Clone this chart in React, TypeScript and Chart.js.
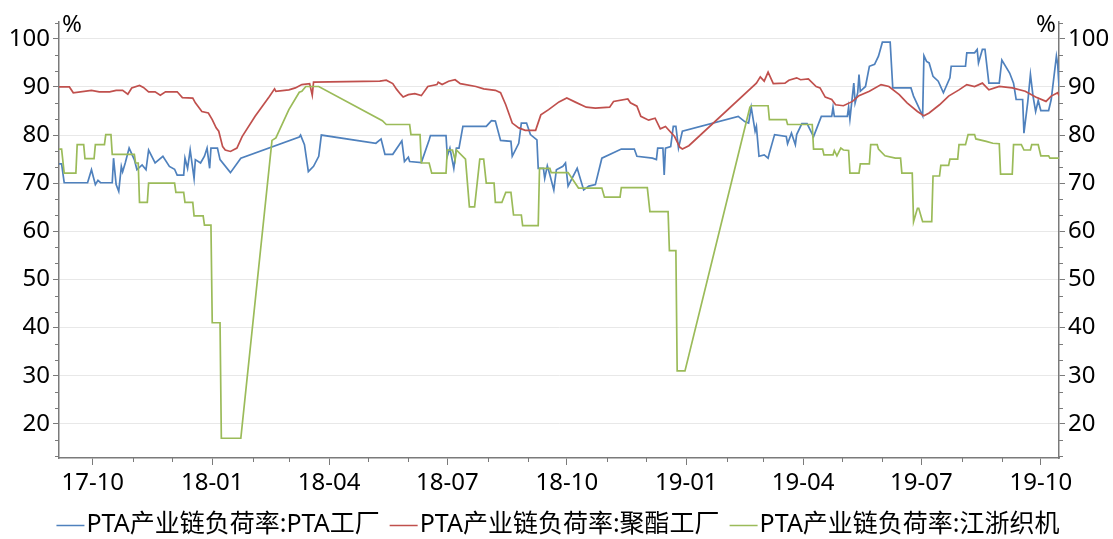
import React, { useEffect, useRef } from "react";
import { Chart, registerables } from "chart.js";

Chart.register(...registerables);

// ---------------- data ----------------
const seriesNames = [
  "PTA产业链负荷率:PTA工厂",
  "PTA产业链负荷率:聚酯工厂",
  "PTA产业链负荷率:江浙织机",
];
const seriesColors = ["#4F81BD", "#C0504D", "#9BBB59"];

const xMin = "2017-09-05";
const xMax = "2019-10-15";
const yMin = 12.9;
const yMax = 103.5;
const yTickValues = [20, 30, 40, 50, 60, 70, 80, 90, 100];
const xTickMonths = ["2017-10", "2018-01", "2018-04", "2018-07", "2018-10", "2019-01", "2019-04", "2019-07", "2019-10"];

const ptaDates = [
  "2017-09-05", "2017-09-07", "2017-09-09", "2017-09-27", "2017-09-30", "2017-10-03", "2017-10-05", "2017-10-07",
  "2017-10-16", "2017-10-17", "2017-10-19", "2017-10-21", "2017-10-23", "2017-10-24", "2017-10-26", "2017-10-29",
  "2017-11-02", "2017-11-04", "2017-11-08", "2017-11-11", "2017-11-13", "2017-11-18", "2017-11-24", "2017-11-29",
  "2017-12-03", "2017-12-05", "2017-12-10", "2017-12-11", "2017-12-13", "2017-12-15", "2017-12-18", "2017-12-19",
  "2017-12-23", "2017-12-26", "2017-12-28", "2017-12-30", "2017-12-31", "2018-01-05", "2018-01-07", "2018-01-15",
  "2018-01-23", "2018-03-09", "2018-03-10", "2018-03-13", "2018-03-16", "2018-03-20", "2018-03-24", "2018-03-26",
  "2018-05-07", "2018-05-11", "2018-05-14", "2018-05-20", "2018-05-25", "2018-05-27", "2018-05-29", "2018-06-01",
  "2018-06-02", "2018-06-11", "2018-06-17", "2018-06-18", "2018-06-30", "2018-07-01", "2018-07-03", "2018-07-06",
  "2018-07-08", "2018-07-10", "2018-07-13", "2018-07-31", "2018-08-04", "2018-08-07", "2018-08-11", "2018-08-19",
  "2018-08-20", "2018-08-25", "2018-08-27", "2018-08-31", "2018-09-03", "2018-09-08", "2018-09-09", "2018-09-13",
  "2018-09-14", "2018-09-16", "2018-09-18", "2018-09-21", "2018-09-23", "2018-09-28", "2018-09-30", "2018-10-02",
  "2018-10-09", "2018-10-14", "2018-10-18", "2018-10-23", "2018-10-28", "2018-11-12", "2018-11-22", "2018-11-24",
  "2018-12-06", "2018-12-09", "2018-12-10", "2018-12-14", "2018-12-15", "2018-12-16", "2018-12-20", "2018-12-22",
  "2018-12-24", "2018-12-26", "2018-12-29", "2019-02-10", "2019-02-15", "2019-02-18", "2019-02-20", "2019-02-23",
  "2019-02-24", "2019-02-26", "2019-03-02", "2019-03-05", "2019-03-06", "2019-03-10", "2019-03-19", "2019-03-20",
  "2019-03-23", "2019-03-26", "2019-03-27", "2019-03-31", "2019-04-04", "2019-04-09", "2019-04-15", "2019-04-23",
  "2019-04-24", "2019-04-25", "2019-05-05", "2019-05-06", "2019-05-07", "2019-05-10", "2019-05-11", "2019-05-13",
  "2019-05-14", "2019-05-15", "2019-05-19", "2019-05-22", "2019-05-26", "2019-05-29", "2019-06-01", "2019-06-07",
  "2019-06-09", "2019-06-23", "2019-06-25", "2019-07-02", "2019-07-03", "2019-07-05", "2019-07-07", "2019-07-10",
  "2019-07-14", "2019-07-18", "2019-07-23", "2019-07-24", "2019-08-04", "2019-08-05", "2019-08-11", "2019-08-13",
  "2019-08-14", "2019-08-17", "2019-08-19", "2019-08-22", "2019-08-30", "2019-09-01", "2019-09-07", "2019-09-10",
  "2019-09-12", "2019-09-17", "2019-09-18", "2019-09-21", "2019-09-23", "2019-09-25", "2019-09-27", "2019-09-29",
  "2019-10-01", "2019-10-07", "2019-10-09", "2019-10-13", "2019-10-14", "2019-10-15",
];
const ptaValues = [
  74.0, 74.0, 70.1, 70.1, 72.8, 69.7, 70.6, 70.1,
  70.1, 75.2, 69.7, 68.3, 73.5, 72.4, 74.2, 77.3,
  74.9, 72.8, 73.8, 72.8, 76.9, 74.2, 75.6, 73.5,
  72.9, 71.7, 71.7, 75.2, 73.1, 76.9, 71.0, 74.9,
  74.2, 75.6, 77.3, 73.1, 77.3, 77.3, 74.9, 72.2,
  75.2, 79.6, 80.0, 78.0, 72.4, 73.5, 75.6, 80.0,
  78.3, 79.2, 76.0, 76.0, 78.0, 78.8, 74.5, 75.4,
  74.5, 74.3, 79.0, 79.9, 79.9, 75.6, 77.3, 73.1,
  77.3, 77.3, 81.8, 81.8, 83.0, 82.9, 78.9, 78.7,
  75.6, 78.3, 82.5, 82.5, 80.1, 79.0, 73.1, 73.1,
  71.0, 73.6, 71.7, 68.6, 72.8, 73.5, 74.2, 69.4,
  73.1, 68.6, 69.4, 69.7, 75.2, 77.1, 77.1, 75.6,
  75.2, 74.9, 77.3, 77.3, 71.7, 77.3, 77.6, 81.8,
  81.8, 77.3, 80.8, 83.9, 82.8, 82.5, 85.8, 80.8,
  81.8, 75.6, 75.9, 75.2, 76.3, 80.1, 79.7, 78.2,
  80.4, 78.0, 80.1, 82.4, 82.4, 79.7, 83.9, 83.9,
  85.8, 83.9, 83.9, 85.8, 83.3, 90.8, 86.7, 88.8,
  92.6, 89.1, 90.1, 94.3, 94.7, 96.4, 99.3, 99.3,
  89.8, 89.8, 88.1, 84.0, 96.5, 95.3, 95.0, 92.2,
  91.2, 88.8, 91.9, 94.3, 94.3, 97.1, 97.1, 97.8,
  95.0, 97.8, 97.8, 90.8, 90.8, 95.6, 92.9, 90.8,
  87.4, 87.4, 80.4, 87.0, 92.6, 88.1, 84.9, 87.2,
  85.1, 85.1, 87.4, 96.4, 94.7, 90.1,
];

const polyDates = [
  "2017-09-05", "2017-09-13", "2017-09-16", "2017-09-30", "2017-10-06", "2017-10-14", "2017-10-19", "2017-10-24",
  "2017-10-28", "2017-10-31", "2017-11-06", "2017-11-09", "2017-11-13", "2017-11-18", "2017-11-22", "2017-11-26",
  "2017-12-05", "2017-12-09", "2017-12-17", "2017-12-19", "2017-12-24", "2017-12-29", "2018-01-01", "2018-01-04",
  "2018-01-06", "2018-01-09", "2018-01-11", "2018-01-15", "2018-01-20", "2018-01-24", "2018-02-03", "2018-02-14",
  "2018-02-18", "2018-02-19", "2018-03-01", "2018-03-06", "2018-03-11", "2018-03-17", "2018-03-19", "2018-03-20",
  "2018-05-10", "2018-05-15", "2018-05-20", "2018-05-23", "2018-05-26", "2018-05-28", "2018-06-01", "2018-06-06",
  "2018-06-11", "2018-06-16", "2018-06-23", "2018-06-24", "2018-06-27", "2018-07-02", "2018-07-07", "2018-07-11",
  "2018-07-23", "2018-07-29", "2018-08-07", "2018-08-11", "2018-08-15", "2018-08-20", "2018-08-25", "2018-08-30",
  "2018-09-07", "2018-09-11", "2018-09-17", "2018-09-25", "2018-10-01", "2018-10-08", "2018-10-16", "2018-10-23",
  "2018-11-03", "2018-11-06", "2018-11-17", "2018-11-19", "2018-11-24", "2018-11-27", "2018-12-03", "2018-12-08",
  "2018-12-12", "2018-12-16", "2018-12-23", "2018-12-27", "2018-12-29", "2019-01-03", "2019-02-24", "2019-02-27",
  "2019-03-02", "2019-03-05", "2019-03-09", "2019-03-18", "2019-03-21", "2019-03-27", "2019-03-30", "2019-04-05",
  "2019-04-11", "2019-04-14", "2019-04-18", "2019-04-23", "2019-04-26", "2019-05-02", "2019-05-09", "2019-05-14",
  "2019-05-22", "2019-05-31", "2019-06-06", "2019-06-14", "2019-06-20", "2019-06-28", "2019-07-03", "2019-07-07",
  "2019-07-15", "2019-07-22", "2019-07-30", "2019-08-05", "2019-08-11", "2019-08-17", "2019-08-22", "2019-08-30",
  "2019-09-09", "2019-09-19", "2019-09-27", "2019-10-05", "2019-10-09", "2019-10-14", "2019-10-15",
];
const polyValues = [
  90.0, 90.0, 88.8, 89.3, 89.0, 89.0, 89.3, 89.3,
  88.5, 89.8, 90.3, 89.9, 89.0, 89.0, 88.3, 89.0,
  89.0, 87.8, 87.7, 86.7, 84.9, 84.6, 83.2, 81.5,
  80.8, 77.6, 76.9, 76.6, 77.3, 79.7, 83.9, 88.0,
  89.6, 89.1, 89.4, 89.8, 90.5, 90.7, 88.3, 91.0,
  91.2, 91.4, 90.7, 89.5, 88.5, 87.9, 88.4, 88.6,
  88.2, 90.1, 90.5, 91.0, 90.5, 91.2, 91.5, 90.7,
  90.1, 89.6, 89.3, 88.8, 86.3, 82.5, 81.5, 81.0,
  81.0, 84.2, 85.3, 86.9, 87.7, 86.8, 85.8, 85.6,
  85.8, 87.0, 87.5, 86.7, 86.0, 83.9, 83.1, 83.5,
  81.3, 81.8, 79.7, 77.5, 77.1, 77.8, 90.8, 92.1,
  91.2, 93.1, 90.7, 90.8, 91.4, 91.9, 91.5, 91.7,
  90.1, 89.8, 87.9, 87.4, 86.3, 86.1, 87.0, 88.2,
  89.1, 90.5, 90.1, 88.4, 86.7, 84.9, 84.0, 84.6,
  86.3, 88.1, 89.4, 90.5, 90.1, 90.8, 89.4, 90.1,
  89.8, 89.1, 87.9, 87.0, 88.1, 88.8, 88.2,
];

const loomDates = [
  "2017-09-05", "2017-09-07", "2017-09-09", "2017-09-18", "2017-09-19", "2017-09-24", "2017-09-25", "2017-10-02",
  "2017-10-03", "2017-10-10", "2017-10-11", "2017-10-15", "2017-10-16", "2017-11-02", "2017-11-03", "2017-11-05",
  "2017-11-06", "2017-11-12", "2017-11-13", "2017-12-03", "2017-12-04", "2017-12-10", "2017-12-11", "2017-12-17",
  "2017-12-18", "2017-12-25", "2017-12-26", "2017-12-31", "2018-01-01", "2018-01-07", "2018-01-08", "2018-01-23",
  "2018-02-16", "2018-02-19", "2018-03-01", "2018-03-09", "2018-03-11", "2018-03-14", "2018-03-24", "2018-05-12",
  "2018-05-15", "2018-06-02", "2018-06-03", "2018-06-10", "2018-06-11", "2018-06-17", "2018-06-19", "2018-06-30",
  "2018-07-01", "2018-07-05", "2018-07-07", "2018-07-08", "2018-07-15", "2018-07-18", "2018-07-22", "2018-07-26",
  "2018-07-29", "2018-07-31", "2018-08-06", "2018-08-07", "2018-08-12", "2018-08-15", "2018-08-19", "2018-08-21",
  "2018-08-27", "2018-08-28", "2018-09-09", "2018-09-10", "2018-09-18", "2018-09-19", "2018-10-02", "2018-10-10",
  "2018-10-28", "2018-10-30", "2018-11-11", "2018-11-12", "2018-12-02", "2018-12-04", "2018-12-18", "2018-12-19",
  "2018-12-24", "2018-12-25", "2018-12-31", "2019-02-19", "2019-02-20", "2019-03-05", "2019-03-06", "2019-03-19",
  "2019-03-20", "2019-04-08", "2019-04-09", "2019-04-16", "2019-04-17", "2019-04-24", "2019-04-25", "2019-04-27",
  "2019-04-30", "2019-05-02", "2019-05-06", "2019-05-07", "2019-05-14", "2019-05-15", "2019-05-22", "2019-05-23",
  "2019-05-28", "2019-05-29", "2019-06-03", "2019-06-11", "2019-06-15", "2019-06-16", "2019-06-24", "2019-06-25",
  "2019-06-28", "2019-06-29", "2019-07-02", "2019-07-09", "2019-07-10", "2019-07-15", "2019-07-16", "2019-07-22",
  "2019-07-23", "2019-07-29", "2019-07-30", "2019-08-04", "2019-08-06", "2019-08-11", "2019-08-12", "2019-08-20",
  "2019-08-25", "2019-08-30", "2019-08-31", "2019-09-09", "2019-09-10", "2019-09-16", "2019-09-18", "2019-09-23",
  "2019-09-24", "2019-09-29", "2019-10-01", "2019-10-07", "2019-10-08", "2019-10-15",
];
const loomValues = [
  77.1, 77.1, 72.1, 72.1, 78.0, 78.0, 75.1, 75.1,
  78.0, 78.0, 80.1, 80.1, 76.0, 76.0, 74.2, 74.2,
  66.0, 66.0, 70.0, 70.0, 68.1, 68.1, 66.0, 66.0,
  63.2, 63.2, 61.3, 61.3, 41.0, 41.0, 17.0, 17.0,
  78.9, 79.4, 85.3, 88.9, 89.1, 90.1, 90.1, 83.0,
  82.2, 82.2, 80.1, 80.1, 74.2, 74.2, 72.1, 72.1,
  76.9, 76.9, 74.8, 76.9, 75.0, 65.1, 65.1, 75.0,
  75.0, 70.0, 70.0, 66.0, 66.0, 68.1, 68.1, 63.4,
  63.4, 61.2, 61.2, 73.1, 73.1, 72.2, 72.2, 69.0,
  69.0, 67.1, 67.1, 69.1, 69.1, 64.1, 64.1, 56.0,
  56.0, 31.0, 31.0, 85.8, 86.1, 86.1, 83.2, 83.2,
  82.2, 82.2, 77.1, 77.1, 75.9, 75.9, 76.8, 75.7,
  77.3, 76.9, 76.8, 72.1, 72.1, 74.0, 74.0, 78.0,
  78.0, 77.1, 75.7, 75.2, 75.2, 72.1, 72.1, 62.0,
  64.8, 64.8, 62.0, 62.0, 71.5, 71.5, 73.7, 73.7,
  75.0, 75.0, 78.0, 78.0, 80.1, 80.1, 79.2, 78.7,
  78.3, 78.2, 71.9, 71.9, 78.0, 78.0, 76.9, 76.9,
  78.0, 78.0, 75.7, 75.7, 75.2, 75.2,
];

// ---------------- helpers / styles ----------------
const FONT = "'Noto Sans', 'Noto Sans CJK SC', sans-serif";
const AXIS_COLOR = "#7a7a7a";
const GRID_COLOR = "#e8e8e8";

function dayNum(s: string): number {
  const p = s.split("-").map(Number);
  return Date.UTC(p[0], p[1] - 1, p[2] || 1) / 86400000;
}
function fmtMonth(v: number): string {
  const d = new Date(Math.round(v) * 86400000);
  const yy = String(d.getUTCFullYear() % 100).padStart(2, "0");
  const mm = String(d.getUTCMonth() + 1).padStart(2, "0");
  return `${yy}-${mm}`;
}
function toPoints(dates: string[], values: number[]) {
  return dates.map((d, i) => ({ x: dayNum(d), y: values[i] }));
}

const decorPlugin = {
  id: "decor",
  afterDraw(chart: any) {
    const ctx = chart.ctx as CanvasRenderingContext2D;
    const area = chart.chartArea;
    const xs = chart.scales.x;
    const ys = chart.scales.y;
    ctx.save();
    ctx.strokeStyle = AXIS_COLOR;
    ctx.lineWidth = 1;
    // minor month ticks on x axis
    const majors = new Set(xTickMonths);
    for (let y = 2017; y <= 2019; y++) {
      for (let m = 1; m <= 12; m++) {
        const key = `${y}-${String(m).padStart(2, "0")}`;
        const v = dayNum(key + "-01");
        if (v < xs.min || v > xs.max || majors.has(key)) continue;
        const px = Math.round(xs.getPixelForValue(v)) + 0.5;
        ctx.beginPath();
        ctx.moveTo(px, area.bottom);
        ctx.lineTo(px, area.bottom + 4);
        ctx.stroke();
      }
    }
    // minor ticks on both y axes
    for (let k = 0; k < 30; k++) {
      const v = 10 + (k * 10) / 3;
      if (v < ys.min || v > ys.max) continue;
      if (k % 3 === 0) continue;
      const py = Math.round(ys.getPixelForValue(v)) + 0.5;
      ctx.beginPath();
      ctx.moveTo(area.left - 4, py);
      ctx.lineTo(area.left, py);
      ctx.moveTo(area.right, py);
      ctx.lineTo(area.right + 4, py);
      ctx.stroke();
    }
    // unit labels
    ctx.fillStyle = "#000";
    ctx.font = `24px ${FONT}`;
    ctx.textBaseline = "middle";
    ctx.textAlign = "left";
    ctx.fillText("%", area.left + 3, area.top + 3);
    ctx.textAlign = "right";
    ctx.fillText("%", area.right - 3, area.top + 3);
    // legend
    ctx.font = `25px ${FONT}`;
    ctx.textAlign = "left";
    const lineLen = 28;
    const gapText = 2;
    const gapItem = 10;
    const widths = seriesNames.map((n) => ctx.measureText(n).width);
    const total = widths.reduce((a, w) => a + lineLen + gapText + w, 0) + gapItem * (seriesNames.length - 1);
    let cx = 558 - total / 2;
    const cy = 525;
    seriesNames.forEach((n, i) => {
      ctx.strokeStyle = seriesColors[i];
      ctx.lineWidth = 1.5;
      ctx.beginPath();
      ctx.moveTo(cx, cy + 0.5);
      ctx.lineTo(cx + lineLen, cy + 0.5);
      ctx.stroke();
      ctx.fillStyle = "#000";
      ctx.fillText(n, cx + lineLen + gapText, cy);
      cx += lineLen + gapText + widths[i] + gapItem;
    });
    ctx.restore();
  },
};

export default function App() {
  const ref = useRef<HTMLCanvasElement>(null);
  useEffect(() => {
    if (!ref.current) return;
    Chart.defaults.font.family = FONT;
    const seriesData = [
      toPoints(ptaDates, ptaValues),
      toPoints(polyDates, polyValues),
      toPoints(loomDates, loomValues),
    ];
    const chart = new Chart(ref.current, {
      type: "line",
      data: {
        datasets: seriesNames.map((name, i) => ({
          label: name,
          data: seriesData[i],
          borderColor: seriesColors[i],
          backgroundColor: seriesColors[i],
          borderWidth: 1.7,
          pointRadius: 0,
          pointHoverRadius: 0,
          tension: 0,
          fill: false,
          order: 3 - i,
        })),
      },
      options: {
        animation: false,
        responsive: false,
        maintainAspectRatio: false,
        layout: { padding: { top: 22, left: 0, right: 0, bottom: 0 } },
        plugins: { legend: { display: false }, tooltip: { enabled: false } },
        scales: {
          x: {
            type: "linear",
            min: dayNum(xMin),
            max: dayNum(xMax),
            afterBuildTicks: (s: any) => {
              s.ticks = xTickMonths.map((m) => ({ value: dayNum(m + "-01") }));
            },
            afterFit: (s: any) => {
              s.height = 539 - 458;
            },
            ticks: {
              callback: (v: any) => fmtMonth(Number(v)),
              color: "#000",
              font: { size: 24, family: FONT },
              maxRotation: 0,
              autoSkip: false,
              padding: 4,
            },
            grid: {
              drawOnChartArea: false,
              drawTicks: true,
              tickLength: 7,
              tickColor: AXIS_COLOR,
              tickWidth: 1,
            },
            border: { display: true, color: AXIS_COLOR, width: 1.5 },
          },
          y: {
            position: "left",
            min: yMin,
            max: yMax,
            afterBuildTicks: (s: any) => {
              s.ticks = yTickValues.map((v) => ({ value: v }));
            },
            afterFit: (s: any) => {
              s.width = 59;
            },
            ticks: { color: "#000", font: { size: 24, family: FONT }, padding: 3 },
            grid: {
              color: GRID_COLOR,
              lineWidth: 1,
              drawTicks: true,
              tickLength: 6,
              tickColor: AXIS_COLOR,
              tickWidth: 1,
            },
            border: { display: true, color: AXIS_COLOR, width: 1.5 },
          },
          y2: {
            position: "right",
            min: yMin,
            max: yMax,
            afterBuildTicks: (s: any) => {
              s.ticks = yTickValues.map((v) => ({ value: v }));
            },
            afterFit: (s: any) => {
              s.width = 1113 - 1059;
            },
            ticks: { color: "#000", font: { size: 24, family: FONT }, padding: 3 },
            grid: {
              drawOnChartArea: false,
              drawTicks: true,
              tickLength: 6,
              tickColor: AXIS_COLOR,
              tickWidth: 1,
            },
            border: { display: true, color: AXIS_COLOR, width: 1.5 },
          },
        },
      },
      plugins: [decorPlugin],
    } as any);
    return () => chart.destroy();
  }, []);
  return (
    <div style={{ position: "absolute", left: 0, top: 0, width: 1113, height: 539, background: "#fff" }}>
      <canvas ref={ref} width={1113} height={539} style={{ display: "block", width: 1113, height: 539 }} />
    </div>
  );
}
